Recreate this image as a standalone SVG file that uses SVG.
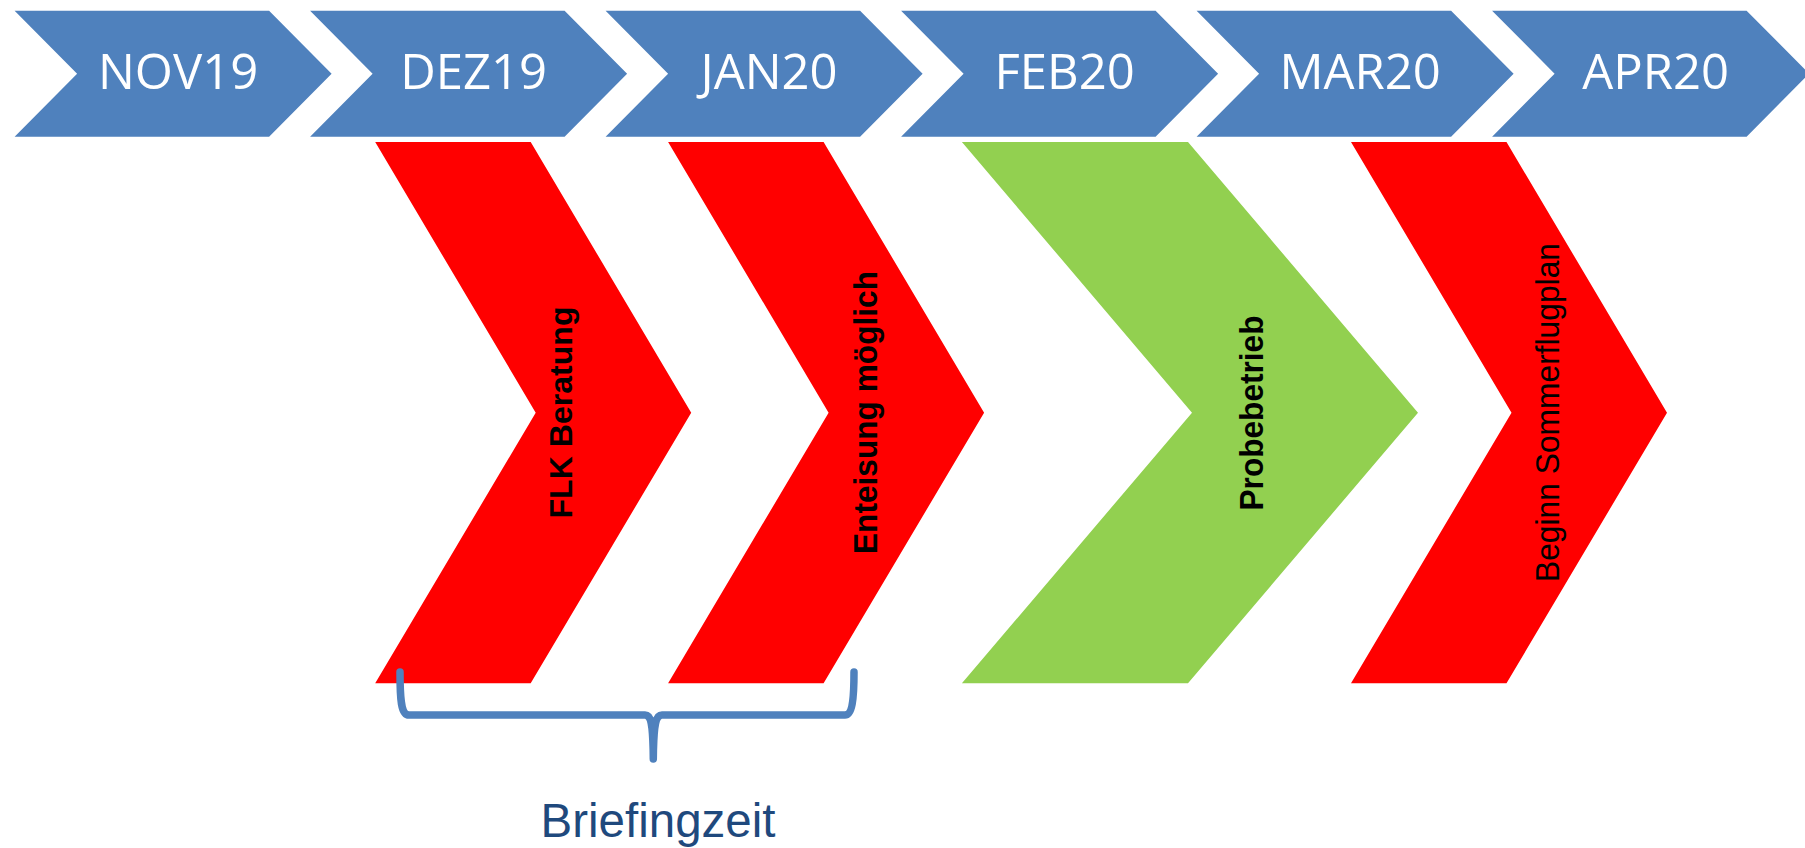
<svg xmlns="http://www.w3.org/2000/svg" xmlns:xlink="http://www.w3.org/1999/xlink" width="1805" height="848" viewBox="0 0 1805 848">
  <style>
    .month { fill: #4F81BD; }
    .mlabel { font-family: "Open Sans", "Liberation Sans", sans-serif; font-size: 49px; fill: #FFFFFF; text-anchor: middle; }
    .red { fill: #FF0000; }
    .green { fill: #92D050; }
    .vlabel { font-family: "Liberation Sans", Arial, sans-serif; fill: #000000; text-anchor: middle; }
    .bold { font-weight: bold; }
    .brace { fill: none; stroke: #4F81BD; stroke-width: 7.5; stroke-linecap: round; stroke-linejoin: round; }
    .blabel { font-family: "Liberation Sans", Arial, sans-serif; font-size: 47.5px; fill: #1F497D; text-anchor: middle; }
  </style>
  <defs>
    <polygon id="mchev" points="0,10.7 254.5,10.7 317,73.7 254.5,136.7 0,136.7 62.5,73.7"/>
    <polygon id="tchev" points="0,142 155.5,142 316,412.7 155.5,683.3 0,683.3 160.5,412.7"/>
  </defs>

  <g id="nov19" transform="translate(14.6,0)">
    <use xlink:href="#mchev" class="month"/>
    <text class="mlabel" x="163.5" y="89">NOV19</text>
  </g>
  <g id="dez19" transform="translate(310.1,0)">
    <use xlink:href="#mchev" class="month"/>
    <text class="mlabel" x="163.5" y="89">DEZ19</text>
  </g>
  <g id="jan20" transform="translate(605.6,0)">
    <use xlink:href="#mchev" class="month"/>
    <text class="mlabel" x="163.5" y="89">JAN20</text>
  </g>
  <g id="feb20" transform="translate(901.1,0)">
    <use xlink:href="#mchev" class="month"/>
    <text class="mlabel" x="163.5" y="89">FEB20</text>
  </g>
  <g id="mar20" transform="translate(1196.6,0)">
    <use xlink:href="#mchev" class="month"/>
    <text class="mlabel" x="163.5" y="89">MAR20</text>
  </g>
  <g id="apr20" transform="translate(1492.1,0)">
    <use xlink:href="#mchev" class="month"/>
    <text class="mlabel" x="163.5" y="89">APR20</text>
  </g>

  <g id="flk-beratung">
    <use xlink:href="#tchev" class="red" transform="translate(375.2,0)"/>
    <text class="vlabel bold" font-size="32" textLength="212" lengthAdjust="spacingAndGlyphs" transform="translate(571.5,412.5) rotate(-90)">FLK Beratung</text>
  </g>
  <g id="enteisung">
    <use xlink:href="#tchev" class="red" transform="translate(668.1,0)"/>
    <text class="vlabel bold" font-size="32.5" textLength="283" lengthAdjust="spacingAndGlyphs" transform="translate(876.5,412.5) rotate(-90)">Enteisung möglich</text>
  </g>
  <g id="probebetrieb">
    <polygon class="green" points="961.9,142 1188,142 1418,412.7 1188,683.3 961.9,683.3 1192,412.7"/>
    <text class="vlabel bold" font-size="32.5" textLength="195" lengthAdjust="spacingAndGlyphs" transform="translate(1263,413) rotate(-90)">Probebetrieb</text>
  </g>
  <g id="sommerflugplan">
    <use xlink:href="#tchev" class="red" transform="translate(1351,0)"/>
    <text class="vlabel" font-size="32.5" textLength="339" lengthAdjust="spacingAndGlyphs" transform="translate(1558.5,412.5) rotate(-90)">Beginn Sommerflugplan</text>
  </g>

  <g id="connectors">
    <path class="brace" d="M400,672 C400,700 401,715 409,715 L645,715 C651,715 653,722 653.3,759 C653.6,722 656,715 662,715 L845,715 C852,715 854,700 854,672"/>
  </g>

  <g id="briefingzeit">
    <text class="blabel" x="658" y="836.7">Briefingzeit</text>
  </g>
</svg>
